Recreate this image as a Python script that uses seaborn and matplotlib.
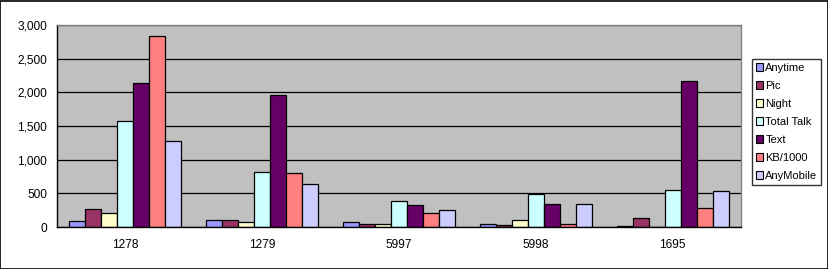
import numpy as np
import pandas as pd
import matplotlib
matplotlib.use("Agg")
import matplotlib.pyplot as plt
from matplotlib.patches import Patch, Rectangle
from matplotlib.ticker import FuncFormatter, MultipleLocator
import seaborn as sns

categories = ["1278", "1279", "5997", "5998", "1695"]
series = ["Anytime", "Pic", "Night", "Total Talk", "Text", "KB/1000", "AnyMobile"]
anytime = [90, 104, 74, 44, 15]
pic = [267, 104, 44, 30, 133]
night = [207, 74, 44, 104, 0]
total_talk = [1572, 815, 385, 494, 549]
text = [2135, 1957, 326, 341, 2170]
kb1000 = [2837, 800, 207, 44, 282]
anymobile = [1275, 637, 252, 345, 534]
colors = ["#9999FF", "#993366", "#FFFFCC", "#CCFFFF", "#660066", "#FF8080", "#CCCCFF"]

values = [anytime, pic, night, total_talk, text, kb1000, anymobile]
rows = []
for s, vals in zip(series, values):
    for c, v in zip(categories, vals):
        rows.append({"cat": c, "series": s, "value": v})
df = pd.DataFrame(rows)

sns.set_theme(style="white")
plt.rcParams["font.family"] = ["Liberation Sans", "DejaVu Sans"]

fig = plt.figure(figsize=(8.29, 2.69), dpi=100)
ax = fig.add_axes([57/829, 42/269, 684/829, 202/269])
ax.set_facecolor("#C0C0C0")

sns.barplot(data=df, x="cat", y="value", hue="series", order=categories,
            hue_order=series, palette=colors, width=0.82, edgecolor="black",
            linewidth=0.9, saturation=1, ax=ax, legend=False, errorbar=None)

ax.set_ylim(0, 3000)
ax.set_xlim(-0.5, len(categories) - 0.5)
ax.yaxis.set_major_locator(MultipleLocator(500))
ax.yaxis.set_major_formatter(FuncFormatter(lambda v, p: f"{int(v):,}"))
ax.grid(axis="y", color="black", linewidth=0.9)
ax.set_axisbelow(True)
ax.set_xlabel("")
ax.set_ylabel("")

ax.set_xticks(np.arange(len(categories)))
ax.set_xticklabels(categories)
ax.tick_params(axis="x", which="major", length=0, pad=9, labelsize=8.6, colors="black")
ax.set_xticks(np.arange(len(categories) + 1) - 0.5, minor=True)
ax.tick_params(axis="x", which="minor", length=4, width=0.9, color="black", direction="out")
ax.tick_params(axis="y", length=4, width=0.9, color="black", direction="out", labelsize=8.6, pad=3)
plt.setp(ax.get_xticklabels() + ax.get_yticklabels(), color="black")

for side in ["top", "right"]:
    ax.spines[side].set_color("#808080")
    ax.spines[side].set_linewidth(1.0)
for side in ["left", "bottom"]:
    ax.spines[side].set_color("black")
    ax.spines[side].set_linewidth(1.0)

handles = [Patch(facecolor=c, edgecolor="black", linewidth=0.8, label=s) for s, c in zip(series, colors)]
leg = fig.legend(handles=handles, loc="upper left", bbox_to_anchor=(752/829, 1 - 59/269),
                 frameon=True, fancybox=False, shadow=False, fontsize=8,
                 handlelength=0.6, handleheight=0.6, handletextpad=0.25,
                 labelspacing=0.72, borderpad=0.35, borderaxespad=0)
leg.get_frame().set_edgecolor("black")
leg.get_frame().set_linewidth(1.0)
for t in leg.get_texts():
    t.set_color("black")

fig.patches.append(Rectangle((0.5/829, 0.5/269), 1 - 1.5/829, 1 - 1.5/269, transform=fig.transFigure,
                             fill=False, edgecolor="black", linewidth=1.2, figure=fig))

fig.savefig("out.png", dpi=100)
